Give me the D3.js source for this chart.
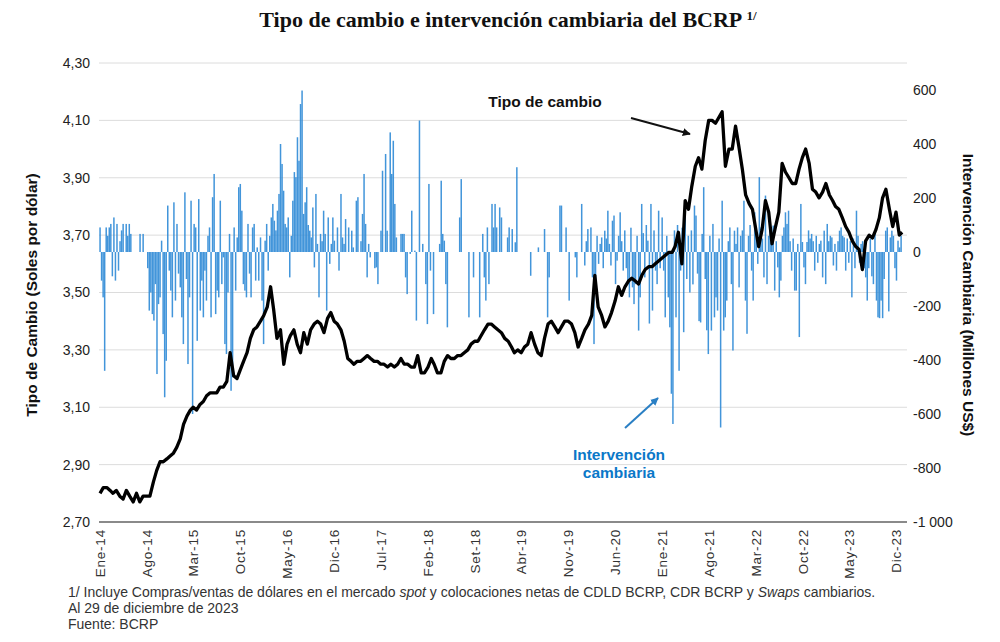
<!DOCTYPE html>
<html><head><meta charset="utf-8">
<script src="https://cdn.jsdelivr.net/npm/d3@7"></script>
<style>body{margin:0;background:#fff}svg{display:block}</style>
</head><body>
<svg id="c" width="1000" height="642"></svg>
<script>
// ---- data ----
const xTickLabels = ["Ene-14","Ago-14","Mar-15","Oct-15","May-16","Dic-16","Jul-17","Feb-18","Set-18","Abr-19","Nov-19","Jun-20","Ene-21","Ago-21","Mar-22","Oct-22","May-23","Dic-23"];
const leftTicks = [2.7,2.9,3.1,3.3,3.5,3.7,3.9,4.1,4.3];
const rightTicks = [-1000,-800,-600,-400,-200,0,200,400,600];

// Tipo de cambio: dos valores por mes (día 1 y 16)
const rate2014 = [2.80,2.82,2.82,2.81,2.80,2.81,2.79,2.78,2.81,2.79,2.77,2.80,2.77,2.79,2.79,2.79,2.84,2.88,2.91,2.91,2.92,2.93,2.94,2.96];
const rate2015 = [2.99,3.04,3.07,3.09,3.10,3.09,3.11,3.12,3.14,3.15,3.15,3.15,3.17,3.17,3.19,3.29,3.21,3.20,3.23,3.26,3.29,3.34,3.37,3.38];
const rate2016 = [3.40,3.42,3.45,3.52,3.44,3.34,3.37,3.25,3.32,3.35,3.37,3.32,3.29,3.36,3.32,3.37,3.39,3.40,3.39,3.36,3.41,3.43,3.40,3.39];
const rate2017 = [3.37,3.33,3.27,3.26,3.25,3.26,3.26,3.27,3.28,3.27,3.26,3.26,3.25,3.25,3.24,3.25,3.24,3.25,3.27,3.25,3.25,3.24,3.24,3.28];
const rate2018 = [3.22,3.22,3.24,3.27,3.25,3.22,3.22,3.26,3.28,3.27,3.27,3.28,3.28,3.29,3.30,3.32,3.33,3.33,3.35,3.37,3.39,3.39,3.38,3.37];
const rate2019 = [3.36,3.34,3.33,3.31,3.29,3.30,3.29,3.31,3.32,3.36,3.32,3.29,3.28,3.34,3.39,3.40,3.38,3.36,3.38,3.40,3.40,3.39,3.36,3.31];
const rate2020 = [3.34,3.37,3.39,3.42,3.56,3.45,3.42,3.38,3.40,3.43,3.47,3.52,3.49,3.52,3.54,3.55,3.54,3.53,3.56,3.58,3.59,3.59,3.60,3.61];
const rate2021 = [3.62,3.63,3.64,3.64,3.66,3.71,3.60,3.82,3.79,3.87,3.94,3.97,3.93,4.03,4.10,4.10,4.09,4.11,4.13,3.94,4.00,4.00,4.08,4.01];
const rate2022 = [3.93,3.84,3.81,3.79,3.73,3.66,3.72,3.82,3.78,3.67,3.73,3.78,3.95,3.92,3.90,3.88,3.88,3.93,3.97,4.00,3.95,3.86,3.85,3.83];
const rate2023 = [3.85,3.88,3.84,3.82,3.80,3.79,3.76,3.73,3.71,3.68,3.66,3.65,3.58,3.68,3.70,3.69,3.72,3.76,3.83,3.86,3.79,3.73,3.78,3.70];
const rateLast = 3.71; // 29 dic 2023

// Intervención cambiaria (millones US$), valores semanales
const int2014 = [91,-106,-168,-440,91,60,91,104,-90,128,-106,104,-69,40,80,104,0,104,60,104,67,0,0,0,0,0,67,0,67,0,0,-60,-217,-150,-230,-254,-119,-452,-193,-168,42,-304,-538,-403,172,-69,-143,-242,184,-180,104,-80];
const int2015 = [-131,-242,-341,221,-100,-415,-168,190,-600,104,91,-329,196,-217,-106,-242,-69,-180,60,91,-242,203,289,-230,-143,-168,190,-119,-20,-341,-378,-150,67,-514,-464,91,-143,54,240,252,153,-119,-143,-168,104,-80,-168,91,104,-106,17,-106];
const int2016 = [54,-180,-341,42,104,-69,60,128,178,116,80,153,215,400,326,227,104,91,128,-94,60,190,296,277,425,338,548,598,141,184,240,100,79,54,165,-57,215,30,-168,67,40,153,67,-217,128,-44,30,128,42,0,91,-69];
const int2017 = [215,54,30,122,0,91,0,79,17,0,190,203,0,40,141,289,104,-94,30,-20,0,0,-60,-57,-119,0,79,301,0,363,79,0,443,289,412,178,54,0,0,67,67,67,-94,-156,0,-7,153,0,5,-254,0,487];
const int2018 = [0,30,0,-119,-267,252,-69,0,-230,0,0,0,30,264,67,42,-119,-279,0,0,0,0,0,0,0,128,270,0,0,0,0,-242,0,0,-94,0,0,0,-242,0,67,-94,-180,91,-119,0,178,91,178,91,0,165];
const int2019 = [128,0,0,0,54,91,0,85,0,36,314,0,0,0,0,0,0,0,0,-88,0,0,0,0,17,0,0,0,85,0,-242,-94,0,0,0,0,0,0,172,172,0,0,91,0,-180,0,0,0,-20,-94,0,0];
const int2020 = [178,0,-50,40,85,0,91,-94,-341,-143,60,-44,30,54,-60,79,50,153,30,-50,116,135,-119,-32,60,147,40,-69,80,-60,-119,-168,90,-131,-193,-119,60,-291,-168,178,70,-94,100,42,-265,178,-217,80,-69,-119,153,-60];
const int2021 = [128,-69,-242,60,-168,-279,-525,-637,80,-242,100,-440,-69,90,-297,153,-100,60,-150,80,-120,172,135,-80,-256,-261,67,240,-100,-290,-378,60,-291,104,-242,-168,-217,50,-650,190,-291,-242,-180,40,91,-119,-365,79,30,91,-131,60];
const int2022 = [80,190,-180,-303,60,100,-69,-180,147,85,-44,277,91,50,-94,209,-119,60,122,54,98,-143,40,-57,-168,-106,60,91,147,104,153,40,-69,50,-143,-143,30,-315,178,37,-57,-119,37,80,50,67,40,-69,60,-40,30,42];
const int2023 = [-94,79,-119,104,40,60,54,-50,30,-69,40,79,91,60,54,-69,50,-40,40,-168,50,-60,153,60,-40,30,40,-60,-94,-180,-60,50,-90,-119,70,-180,-242,-245,-180,-245,-100,79,91,-220,54,79,60,-60,-106,42,17,60];

const years = [2014,2015,2016,2017,2018,2019,2020,2021,2022,2023];
const rateByYear = [rate2014,rate2015,rate2016,rate2017,rate2018,rate2019,rate2020,rate2021,rate2022,rate2023];
const intByYear = [int2014,int2015,int2016,int2017,int2018,int2019,int2020,int2021,int2022,int2023];

// ---- build series ----
const rateSeries = [];
years.forEach((y,yi)=>rateByYear[yi].forEach((v,k)=>{
  rateSeries.push({date:new Date(y, Math.floor(k/2), k%2===0?1:16), v});
}));
rateSeries.push({date:new Date(2023,11,29), v:rateLast});
const intSeries = [];
years.forEach((y,yi)=>intByYear[yi].forEach((v,w)=>{
  intSeries.push({date:new Date(y,0,1+7*w), v});
}));

// ---- chart ----
const svg = d3.select("#c");
const FONT = "'Liberation Sans', Arial, sans-serif";
const x = d3.scaleTime().domain([new Date(2014,0,1), new Date(2023,11,1)]).range([100,896]);
const yL = d3.scaleLinear().domain([2.7,4.3]).range([522,63]);
const yR = d3.scaleLinear().domain([-1000,600]).range([522,90]);
const xL = 99, xRgt = 907;

const loc = d3.formatLocale({decimal:",", thousands:" ", grouping:[3], currency:["",""], minus:"-"});
const fmtL = loc.format(".2f");
const fmtR = loc.format(",d");

// title
const t = svg.append("text").attr("x",508).attr("y",27).attr("text-anchor","middle")
  .style("font-family","'Liberation Serif', 'DejaVu Serif', serif").style("font-weight","bold").style("font-size","22px").attr("fill","#111")
  .text("Tipo de cambio e intervención cambiaria del BCRP ");
t.append("tspan").attr("dy",-7).style("font-size","13px").text("1/");

// gridlines
svg.append("g").selectAll("line").data(leftTicks.filter(d=>d>2.7)).join("line")
  .attr("x1",xL).attr("x2",xRgt).attr("y1",d=>yL(d)).attr("y2",d=>yL(d))
  .attr("stroke","#dcdcdc").attr("stroke-width",1);

// bars
svg.append("g").selectAll("rect").data(intSeries.filter(d=>d.v!==0)).join("rect")
  .attr("x",d=>x(d.date)-0.7).attr("width",1.5)
  .attr("y",d=>yR(Math.max(0,d.v))).attr("height",d=>Math.abs(yR(d.v)-yR(0)))
  .attr("fill","#2e8ad6").attr("opacity",0.9);

// line
svg.append("path").datum(rateSeries)
  .attr("d",d3.line().x(d=>x(d.date)).y(d=>yL(d.v)))
  .attr("fill","none").attr("stroke","#000").attr("stroke-width",3.3).attr("stroke-linejoin","round");

// x axis line
svg.append("line").attr("x1",xL).attr("x2",xRgt).attr("y1",522).attr("y2",522).attr("stroke","#8a8a8a").attr("stroke-width",2);

// left axis
const gL = svg.append("g").attr("transform","translate(92,0)")
  .call(d3.axisLeft(yL).tickValues(leftTicks).tickFormat(fmtL).tickSize(0).tickPadding(2));
gL.select(".domain").remove();
gL.selectAll("text").style("font-family",FONT).style("font-size","14px").attr("fill","#222");

// right axis
const gR = svg.append("g").attr("transform","translate(913,0)")
  .call(d3.axisRight(yR).tickValues(rightTicks).tickFormat(fmtR).tickSize(0).tickPadding(0));
gR.select(".domain").remove();
gR.selectAll("text").style("font-family",FONT).style("font-size","14px").attr("fill","#222");

// x axis labels
const xTickDates = xTickLabels.map((s,i)=>new Date(2014, i*7, 1));
const gX = svg.append("g").attr("transform","translate(0,522)")
  .call(d3.axisBottom(x).tickValues(xTickDates).tickFormat((d,i)=>xTickLabels[i]).tickSize(0));
gX.select(".domain").remove();
gX.selectAll("text").attr("transform","rotate(-90)").attr("x",-7).attr("y",0).attr("dy","0.35em")
  .style("text-anchor","end").style("font-family",FONT).style("font-size","13.5px").style("letter-spacing","0.8px").attr("fill","#333");

// axis titles
svg.append("text").attr("transform","translate(37,295) rotate(-90)").attr("text-anchor","middle")
  .style("font-family",FONT).style("font-weight","bold").style("font-size","15.5px").attr("fill","#111")
  .text("Tipo de Cambio (Soles por dólar)");
svg.append("text").attr("transform","translate(963,295) rotate(90)").attr("text-anchor","middle")
  .style("font-family",FONT).style("font-weight","bold").style("font-size","15.5px").attr("fill","#111")
  .text("Intervención Cambiaria (Millones US$)");

// annotations
const defs = svg.append("defs");
function marker(id,color){
  defs.append("marker").attr("id",id).attr("viewBox","0 0 10 10").attr("refX",9).attr("refY",5)
    .attr("markerWidth",4).attr("markerHeight",4).attr("orient","auto")
    .append("path").attr("d","M0,0L10,5L0,10z").attr("fill",color);
}
marker("ab","#111"); marker("aw","#2a7fc4");
svg.append("text").attr("x",545).attr("y",107).attr("text-anchor","middle")
  .style("font-family",FONT).style("font-weight","bold").style("font-size","15.5px").attr("fill","#111").text("Tipo de cambio");
svg.append("line").attr("x1",631).attr("y1",118).attr("x2",690).attr("y2",134)
  .attr("stroke","#111").attr("stroke-width",2).attr("marker-end","url(#ab)");
const tb = svg.append("text").attr("text-anchor","middle")
  .style("font-family",FONT).style("font-weight","bold").style("font-size","15.5px").attr("fill","#0a78c8");
tb.append("tspan").attr("x",619).attr("y",460).text("Intervención");
tb.append("tspan").attr("x",619).attr("y",478).text("cambiaria");
svg.append("line").attr("x1",625).attr("y1",428).attr("x2",658).attr("y2",398)
  .attr("stroke","#2a7fc4").attr("stroke-width",2).attr("marker-end","url(#aw)");

// footnotes
const fn = svg.append("text").attr("x",68).attr("y",597)
  .style("font-family",FONT).style("font-size","14px").attr("fill","#333");
fn.append("tspan").text("1/ Incluye Compras/ventas de dólares en el mercado ");
fn.append("tspan").style("font-style","italic").text("spot");
fn.append("tspan").text(" y colocaciones netas de CDLD BCRP, CDR BCRP y ");
fn.append("tspan").style("font-style","italic").text("Swaps");
fn.append("tspan").text(" cambiarios.");
svg.append("text").attr("x",68).attr("y",613).style("font-family",FONT).style("font-size","14px").attr("fill","#333").text("Al 29 de diciembre de 2023");
svg.append("text").attr("x",68).attr("y",629).style("font-family",FONT).style("font-size","14px").attr("fill","#333").text("Fuente: BCRP");
</script>
</body></html>
